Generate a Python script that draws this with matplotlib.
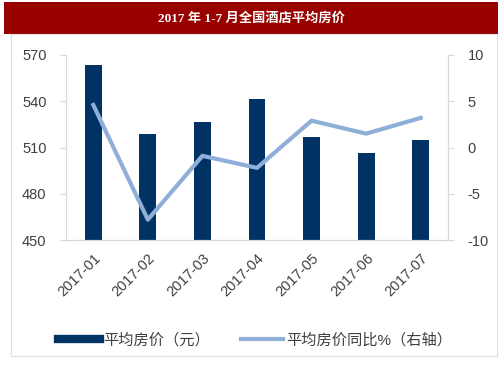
import numpy as np
import matplotlib
matplotlib.use("Agg")
from matplotlib import pyplot as plt
from matplotlib.patches import Rectangle
from matplotlib.lines import Line2D

plt.rcParams['font.family'] = ['Liberation Sans', 'Noto Sans CJK SC']
plt.rcParams['axes.unicode_minus'] = False

months = ["2017-01", "2017-02", "2017-03", "2017-04", "2017-05", "2017-06", "2017-07"]
avg_price = [563.3, 518.8, 526.8, 541.7, 516.8, 506.7, 514.7]
yoy_pct = [4.6, -7.8, -0.9, -2.2, 2.9, 1.5, 3.2]

bar_color = "#003263"
line_color = "#8FAFD9"
spine_color = "#D9D9D9"
text_color = "#404040"

W, H = 503, 378
fig = plt.figure(figsize=(W / 100, H / 100), dpi=100)

# title banner and panel frame
fig.patches.append(Rectangle((4 / W, 1 - 34 / H), 494 / W, 32 / H, transform=fig.transFigure,
                             facecolor="#990000", edgecolor="none", zorder=0))
fig.patches.append(Rectangle((11 / W, 1 - 356 / H), 486 / W, 322 / H, transform=fig.transFigure,
                             facecolor="none", edgecolor="#E0E0E0", lw=0.8, zorder=0))
fig.text(251 / W, 1 - 18 / H, "2017 年 1-7 月全国酒店平均房价", color="white", fontsize=9.5,
         fontweight="bold", ha="center", va="center",
         family=['Liberation Serif', 'Noto Sans CJK SC'])

ax = fig.add_axes([66 / W, 1 - 240 / H, 382 / W, 185 / H])
x = np.arange(len(months))
ax.bar(x, avg_price, width=0.31, color=bar_color, zorder=2)
ax.set_ylim(450, 570)
ax.set_yticks([450, 480, 510, 540, 570])
ax.set_xlim(-0.5, len(months) - 0.5)
ax.set_xticks(x)
ax.set_xticklabels(months, rotation=45, ha="right", rotation_mode="anchor")

ax2 = ax.twinx()
ax2.plot(x, yoy_pct, color=line_color, lw=3, zorder=3)
ax2.set_ylim(-10, 10)
ax2.set_yticks([-10, -5, 0, 5, 10])

for a in (ax, ax2):
    for s in a.spines.values():
        s.set_color(spine_color)
    a.spines["top"].set_visible(False)
    a.tick_params(colors=text_color, labelsize=10.5, length=4, color=spine_color)
ax.tick_params(axis="x", length=0, labelsize=10.5, pad=8)
ax.tick_params(axis="y", pad=10)
ax2.tick_params(axis="y", pad=10)

handles = [Line2D([], [], color=bar_color, lw=6),
           Line2D([], [], color=line_color, lw=3)]
fig.legend(handles, ["平均房价（元）", "平均房价同比%（右轴）"], loc="center",
           bbox_to_anchor=(255 / W, 1 - 340 / H), ncol=2, frameon=False,
           fontsize=11, handlelength=2.8, columnspacing=2.0, handletextpad=0.2,
           labelcolor=text_color)

fig.savefig("out.png", dpi=100)
